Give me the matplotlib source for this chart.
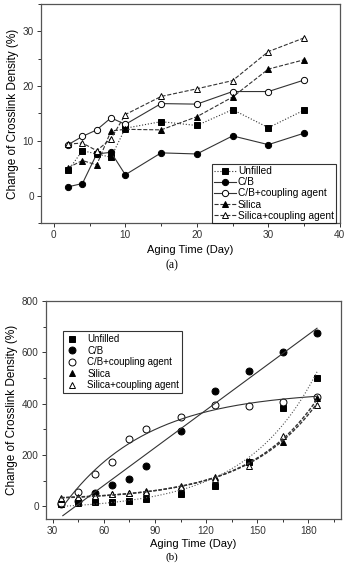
import matplotlib
matplotlib.use('Agg')
import matplotlib.pyplot as plt
import numpy as np

plt.rcParams['font.family'] = ['Liberation Sans', 'DejaVu Sans']

# (a) short-term aging
days_a = [2, 4, 6, 8, 10, 15, 20, 25, 30, 35]
unfilled_a = [4.6, 8.2, 7.6, 7.0, 12.3, 13.5, 12.8, 15.7, 12.4, 15.6]
cb_a = [1.6, 2.2, 7.6, 7.9, 3.8, 7.8, 7.6, 10.9, 9.3, 11.4]
cb_cp_a = [9.3, 10.8, 12.0, 14.2, 13.0, 16.8, 16.7, 19.0, 19.0, 21.1]
silica_a = [5.1, 6.4, 5.6, 11.8, 12.1, 12.0, 14.4, 18.0, 23.1, 24.8]
silica_cp_a = [9.4, 9.6, 8.2, 10.4, 14.8, 18.1, 19.5, 21.0, 26.3, 28.8]

# (b) long-term aging
days_b = [35, 45, 55, 65, 75, 85, 105, 125, 145, 165, 185]
unfilled_b = [10, 14, 16, 17, 22, 30, 47, 78, 173, 384, 500]
cb_b = [10, 20, 53, 83, 108, 156, 294, 449, 529, 601, 675]
cb_cp_b = [13, 55, 127, 173, 263, 300, 350, 395, 390, 406, 427]
silica_b = [30, 34, 39, 46, 52, 60, 78, 114, 175, 252, 421]
silica_cp_b = [32, 36, 42, 46, 50, 56, 77, 105, 156, 276, 395]

labels = ['Unfilled', 'C/B', 'C/B+coupling agent', 'Silica', 'Silica+coupling agent']
markers = ['s', 'o', 'o', '^', '^']
fills = ['k', 'k', 'white', 'k', 'white']
styles = [':', '-', '-', '--', '--']
lc = '#333333'


def exp_fit(x, y, xs, trange):
    # y = y0 + A*exp(x/t), scan t and solve the linear part
    x = np.asarray(x, float)
    y = np.asarray(y, float)
    best = None
    for t in trange:
        M = np.column_stack([np.ones_like(x), np.exp(x / t)])
        c, _, _, _ = np.linalg.lstsq(M, y, rcond=None)
        err = np.sum((M @ c - y) ** 2)
        if best is None or err < best[0]:
            best = (err, t, c)
    _, t, c = best
    return c[0] + c[1] * np.exp(xs / t)


fig = plt.figure(figsize=(3.44, 5.63), dpi=100)

def style_axes(ax):
    for s in ax.spines.values():
        s.set_color('#555555')
        s.set_linewidth(0.9)
    ax.tick_params(direction='out', length=3, width=0.7, labelsize=7.2, colors='#333333', pad=2)
    ax.tick_params(which='minor', direction='out', length=2, width=0.7, colors='#333333')

# ---- (a)
ax1 = fig.add_axes([0.119, 0.604, 0.869, 0.389])
series_a = [unfilled_a, cb_a, cb_cp_a, silica_a, silica_cp_a]
for y, lab, m, f, ls in zip(series_a, labels, markers, fills, styles):
    ax1.plot(days_a, y, linestyle=ls, color=lc, lw=0.8, marker=m, ms=4.5,
             mfc=f, mec='k', mew=0.7, label=lab)
ax1.set_xlim(-1.8, 40)
ax1.set_ylim(-5, 35)
ax1.set_xticks([0, 10, 20, 30, 40])
ax1.set_xticks([5, 15, 25, 35], minor=True)
ax1.set_yticks([0, 10, 20, 30])
ax1.set_yticks([-5, 5, 15, 25, 35], minor=True)
style_axes(ax1)
ax1.set_xlabel('Aging Time (Day)', fontsize=8, labelpad=4)
ax1.set_ylabel('Change of Crosslink Density (%)', fontsize=8.5, labelpad=3)
leg = ax1.legend(loc='lower right', fontsize=7.3, frameon=True, fancybox=False,
                 edgecolor='k', borderaxespad=0.0, handlelength=2.2,
                 labelspacing=0.12, handletextpad=0.2, borderpad=0.2,
                 bbox_to_anchor=(0.987, 0.0))
leg.get_frame().set_linewidth(0.8)
fig.text(0.5, 1 - 265 / 563, '(a)', ha='center', va='center', fontsize=8.5,
         family='Liberation Serif')

# ---- (b)
ax2 = fig.add_axes([0.133, 0.078, 0.858, 0.387])
series_b = [unfilled_b, cb_b, cb_cp_b, silica_b, silica_cp_b]
for y, lab, m, f in zip(series_b, labels, markers, fills):
    ax2.plot(days_b, y, linestyle='none', marker=m, ms=5, mfc=f, mec='k',
             mew=0.7, label=lab)

xs = np.linspace(35, 185, 200)
xb = np.asarray(days_b, float)
xs1 = np.linspace(36, 185, 200)
ax2.plot(xs1, np.polyval(np.polyfit(xb, cb_b, 1), xs1), color=lc, lw=0.8)
xs2 = np.linspace(37.5, 185, 200)
ax2.plot(xs2, exp_fit(xb, cb_cp_b, xs2, np.linspace(-200, -10, 400)), color=lc, lw=0.8)
grow = np.linspace(10, 200, 400)
ax2.plot(xs, exp_fit(xb, unfilled_b, xs, grow), color='#555555', lw=0.8, ls=':')
ax2.plot(xs, exp_fit(xb, silica_b, xs, grow), color='#333333', lw=1.0, ls=(0, (2.5, 1.2)))
ax2.plot(xs, exp_fit(xb, silica_cp_b, xs, grow), color='#333333', lw=1.0, ls=(0, (2.5, 1.2)))

ax2.set_xlim(26, 199)
ax2.set_ylim(-50, 800)
ax2.set_xticks([30, 60, 90, 120, 150, 180])
ax2.set_xticks([45, 75, 105, 135, 165, 195], minor=True)
ax2.set_yticks([0, 200, 400, 600, 800])
ax2.set_yticks([100, 300, 500, 700], minor=True)
style_axes(ax2)
ax2.set_xlabel('Aging Time (Day)', fontsize=8, labelpad=2)
ax2.set_ylabel('Change of Crosslink Density (%)', fontsize=8.5, labelpad=3)
leg2 = ax2.legend(loc='upper left', bbox_to_anchor=(0.059, 0.862), fontsize=7,
                  frameon=True, fancybox=False, edgecolor='k', borderaxespad=0,
                  handlelength=1.2, labelspacing=0.15, handletextpad=1.0,
                  borderpad=0.3)
leg2.get_frame().set_linewidth(0.8)
fig.text(0.5, 1 - 557.5 / 563, '(b)', ha='center', va='center', fontsize=8,
         family='Liberation Serif')

plt.savefig('out.png', dpi=100)
